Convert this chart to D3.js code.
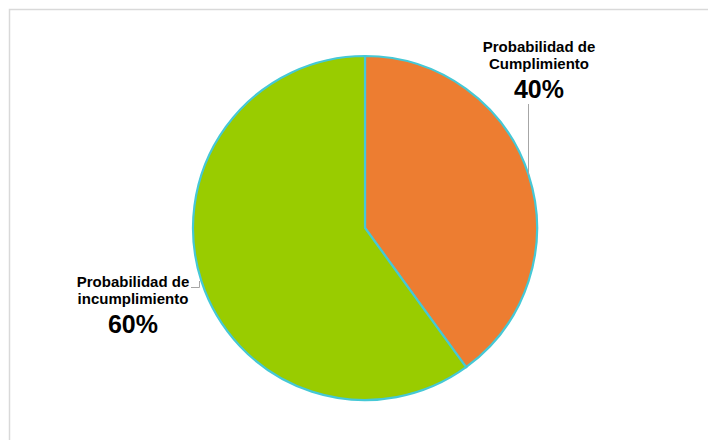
<!DOCTYPE html>
<html lang="es">
<head>
<meta charset="utf-8">
<title>Probabilidad</title>
<script src="https://cdn.jsdelivr.net/npm/d3@7"></script>
<style>
  body { margin: 0; background: #fff; }
  text { font-family: "Liberation Sans", Arial, sans-serif; font-weight: bold; fill: #000; }
</style>
</head>
<body>
<script>
// data
let categories = ["Probabilidad de Cumplimiento", "Probabilidad de incumplimiento"];
let values = [40, 60];
let labelLines = [["Probabilidad de", "Cumplimiento"], ["Probabilidad de", "incumplimiento"]];
let colors = ["#ED7D31", "#99CC00"];

let w = 708, h = 440;
let cx = 365, cy = 228, r = 172;

let svg = d3.select("body").append("svg")
  .attr("width", w).attr("height", h);

// chart frame
svg.append("rect")
  .attr("x", 9.5).attr("y", 9.5)
  .attr("width", w + 10).attr("height", h + 10)
  .attr("fill", "none")
  .attr("stroke", "#d9d9d9")
  .attr("stroke-width", 1.5);

let pie = d3.pie().sort(null).value(d => d);
let arcs = pie(values);
let arc = d3.arc().innerRadius(0).outerRadius(r);

let g = svg.append("g").attr("transform", `translate(${cx},${cy})`);

g.selectAll("path")
  .data(arcs)
  .enter()
  .append("path")
  .attr("d", arc)
  .attr("fill", (d, i) => colors[i])
  .attr("stroke", "#45C8D6")
  .attr("stroke-width", 2.2);

// label positions (centre x, baseline of first line)
let labelPos = [{x: 539, y: 52}, {x: 133, y: 287}];

labelPos.forEach((p, i) => {
  let t = svg.append("text").attr("text-anchor", "middle");
  labelLines[i].forEach((ln, j) => {
    t.append("tspan")
      .attr("x", p.x)
      .attr("y", p.y + j * 16.5)
      .attr("font-size", "15px")
      .text(ln);
  });
  svg.append("text")
    .attr("text-anchor", "middle")
    .attr("x", p.x)
    .attr("y", p.y + 46)
    .attr("font-size", "25px")
    .text(values[i] + "%");
});

// leader lines, ending on the slice edge
let edge = a => [cx + r * Math.sin(a), cy - r * Math.cos(a)];
let a0 = Math.asin((528.5 - cx) / r);
let e0 = edge(a0);
svg.append("line")
  .attr("x1", 528.5).attr("y1", 104)
  .attr("x2", 528.5).attr("y2", e0[1])
  .attr("stroke", "#a6a6a6").attr("stroke-width", 1);

svg.append("polyline")
  .attr("points", "191,287.5 199.5,287.5 199.5,281")
  .attr("fill", "none")
  .attr("stroke", "#a6a6a6").attr("stroke-width", 1);
</script>
</body>
</html>
